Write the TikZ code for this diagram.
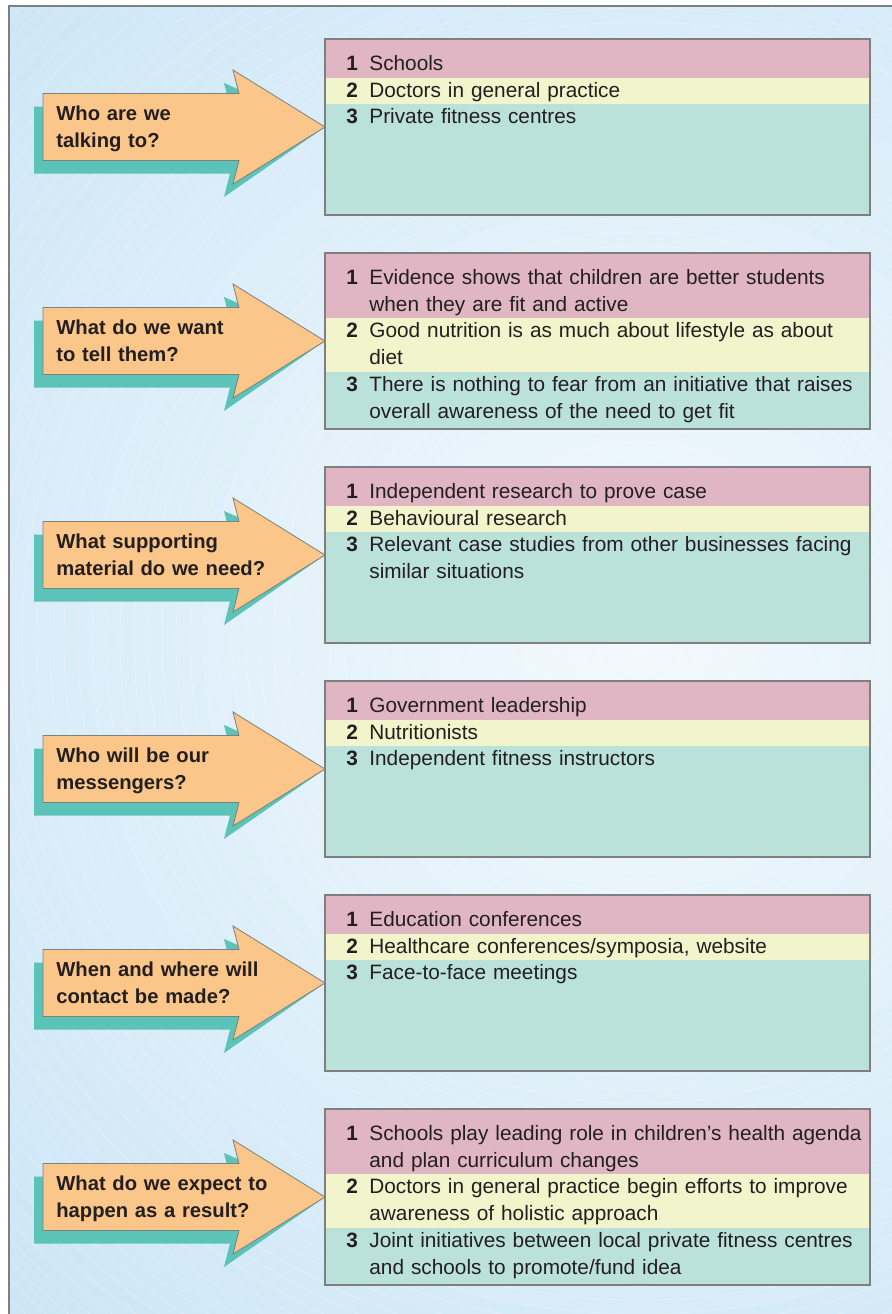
\documentclass[tikz,border=0pt]{standalone}
\usepackage{fontspec}
\setmainfont{Liberation Sans}
\usetikzlibrary{calc}
\definecolor{bgblue}{HTML}{B8DCF2}
\definecolor{bglight}{HTML}{F3F9FD}
\definecolor{bandpink}{HTML}{E0B5C4}
\definecolor{bandyellow}{HTML}{F2F4CC}
\definecolor{bandteal}{HTML}{BBE1DB}
\definecolor{arroworange}{HTML}{FBC68A}
\definecolor{shadowteal}{HTML}{5CC3B8}
\definecolor{ink}{HTML}{231F20}
\definecolor{rimgrey}{HTML}{7F7F7F}
\tikzset{
  qarrow/.style={fill=arroworange,draw=rimgrey,line width=0.4pt,line join=miter},
  qshadow/.style={fill=shadowteal},
  qtext/.style={anchor=base west,inner sep=0pt,text width=115pt,align=left,
    text=ink,font=\fontsize{10.1}{13.35}\selectfont\bfseries},
  itemnum/.style={anchor=base west,inner sep=0pt,text=ink,
    font=\fontsize{10.4}{13.35}\selectfont\bfseries},
  itemtext/.style={anchor=base west,inner sep=0pt,text width=255pt,align=left,
    text=ink,font=\fontsize{10.4}{13.35}\selectfont},
  planbox/.style={draw=rimgrey,line width=0.8pt,anchor=north west,inner sep=0pt,
    outer sep=0pt,minimum width=272.5pt,minimum height=88pt},
  arcline/.style={draw=white,line width=0.3pt,opacity=0.35}
}
% #1 name, #2 top, #3 question, #4/#5 lines of items 1/2, #6-#8 items
\newcommand{\planrow}[8]{%
  \pgfmathsetmacro{\bandone}{38.5+(#4-1)*26.7}%
  \pgfmathsetmacro{\bandtwo}{\bandone+#5*26.7}%
  \pgfmathsetmacro{\basetwo}{31.5+#4*26.7}%
  \pgfmathsetmacro{\basethree}{\basetwo+#5*26.7}%
  \begin{scope}[shift={(0,#2)}]
    \fill[bandpink] (325,0) rectangle (870,\bandone);
    \fill[bandyellow] (325,\bandone) rectangle (870,\bandtwo);
    \fill[bandteal] (325,\bandtwo) rectangle (870,176);
    \node[planbox] (#1box) at (325,0) {};
    % arrow and its shadow
    \fill[qshadow,shift={(-9,13)}] (43,54.5) -- (239,54.5) -- (233,31) -- (#1box.west)
      -- (233,145) -- (239,121.5) -- (43,121.5) -- cycle;
    \filldraw[qarrow] (43,54.5) -- (239,54.5) -- (233,31) -- (#1box.west)
      -- (233,145) -- (239,121.5) -- (43,121.5) -- cycle;
    \node[qtext] (#1q) at (56,81.5) {#3};
    \node[itemnum] (#1n1) at (346,31.5) {1};
    \node[itemtext] (#1t1) at (369,31.5) {#6};
    \node[itemnum] (#1n2) at (346,\basetwo) {2};
    \node[itemtext] (#1t2) at (369,\basetwo) {#7};
    \node[itemnum] (#1n3) at (346,\basethree) {3};
    \node[itemtext] (#1t3) at (369,\basethree) {#8};
  \end{scope}}

\begin{document}
\begin{tikzpicture}[x=0.5pt,y=-0.5pt]
  \path[use as bounding box] (0,0) rectangle (892,1314);
  % background
  \begin{scope}
    \clip (9,6) rectangle (892,1314);
    \shade[inner color=bglight,outer color=bgblue] (640,640) circle (1400);
    \foreach \r in {30,44,...,1000}
      \draw[arcline] (640,640) circle (\r);
  \end{scope}
  \draw[rimgrey,line width=0.8pt] (9,1314) -- (9,6) -- (892,6);

  \planrow{who}{39}{Who are we\\talking to?}{1}{1}
    {Schools}{Doctors in general practice}{Private fitness centres}
  \planrow{tell}{253}{What do we want\\to tell them?}{2}{2}
    {Evidence shows that children are better students\\when they are fit and active}
    {Good nutrition is as much about lifestyle as about\\diet}
    {There is nothing to fear from an initiative that raises\\overall awareness of the need to get fit}
  \planrow{supp}{467}{What supporting\\material do we need?}{1}{1}
    {Independent research to prove case}{Behavioural research}
    {Relevant case studies from other businesses facing\\similar situations}
  \planrow{mess}{681}{Who will be our\\messengers?}{1}{1}
    {Government leadership}{Nutritionists}{Independent fitness instructors}
  \planrow{when}{895}{When and where will\\contact be made?}{1}{1}
    {Education conferences}{Healthcare conferences/symposia, website}{Face-to-face meetings}
  \planrow{expe}{1109}{What do we expect to\\happen as a result?}{2}{2}
    {Schools play leading role in children’s health agenda\\and plan curriculum changes}
    {Doctors in general practice begin efforts to improve\\awareness of holistic approach}
    {Joint initiatives between local private fitness centres\\and schools to promote/fund idea}
\end{tikzpicture}
\end{document}
